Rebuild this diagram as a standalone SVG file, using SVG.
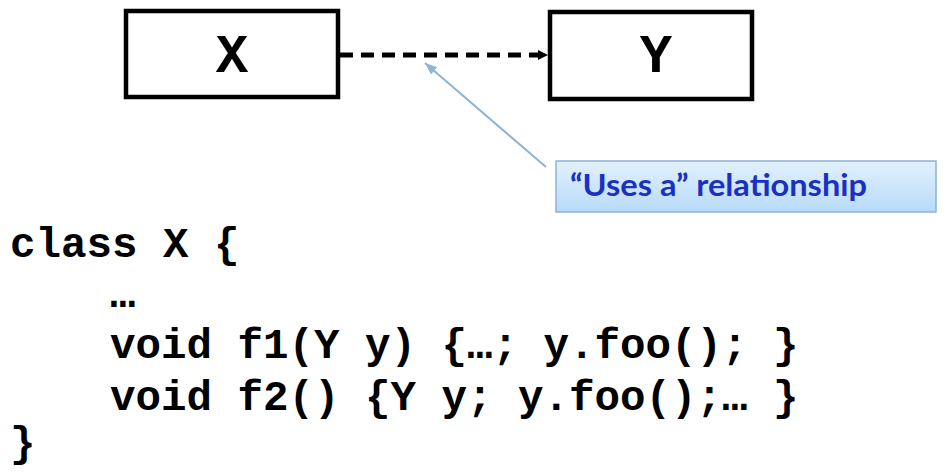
<svg xmlns="http://www.w3.org/2000/svg" width="950" height="472" viewBox="0 0 950 472">
<style>
.box{fill:#fff;stroke:#000;stroke-width:4.5}
.code{font-family:"Liberation Mono","Courier New",monospace;font-weight:bold;font-size:42.5px;fill:#000}
.lbl{font-family:"Liberation Mono","Courier New",monospace;font-weight:bold;font-size:54px;fill:#000;text-anchor:middle}
.note{font-family:Lato,"Liberation Sans",sans-serif;font-weight:bold;font-size:30px;fill:#1a30c4}
</style>
<defs>
<linearGradient id="g" x1="0" y1="0" x2="0" y2="1">
<stop offset="0" stop-color="#e3f1fd"/>
<stop offset="1" stop-color="#b7daf8"/>
</linearGradient>
<marker id="ah" viewBox="0 0 10 10" refX="10" refY="5" markerWidth="10" markerHeight="10" markerUnits="userSpaceOnUse" orient="auto">
<path d="M0,0 L10,5 L0,10 z" fill="#000"/>
</marker>
<marker id="bh" viewBox="0 0 10 10" refX="10" refY="5" markerWidth="12" markerHeight="12" markerUnits="userSpaceOnUse" orient="auto">
<path d="M0,1 L10,5 L0,9 z" fill="#8eb4d6"/>
</marker>
</defs>
<g id="connectors">
<line x1="340" y1="55" x2="548" y2="55" stroke="#000" stroke-width="5" stroke-dasharray="13,8" marker-end="url(#ah)"/>
<line x1="546" y1="167" x2="425" y2="63" stroke="#8eb4d6" stroke-width="2" marker-end="url(#bh)"/>
</g>
<g id="nodeX">
<rect class="box" x="126" y="11" width="212" height="86"/>
<text class="lbl" x="232" y="72">X</text>
</g>
<g id="nodeY">
<rect class="box" x="550" y="12" width="202" height="87"/>
<text class="lbl" x="656" y="72">Y</text>
</g>
<g id="callout">
<rect x="556" y="161" width="380" height="51" fill="url(#g)" stroke="#8db3d8" stroke-width="1.5"/>
<text class="note" x="570" y="196" textLength="297" lengthAdjust="spacingAndGlyphs">“Uses a” relationship</text>
</g>
<g id="code">
<text class="code" x="10" y="257">class X {</text>
<text class="code" x="110" y="307">…</text>
<text class="code" x="110" y="358">void f1(Y y) {…; y.foo(); }</text>
<text class="code" x="110" y="410">void f2() {Y y; y.foo();… }</text>
<text class="code" x="10" y="456">}</text>
</g>
</svg>
